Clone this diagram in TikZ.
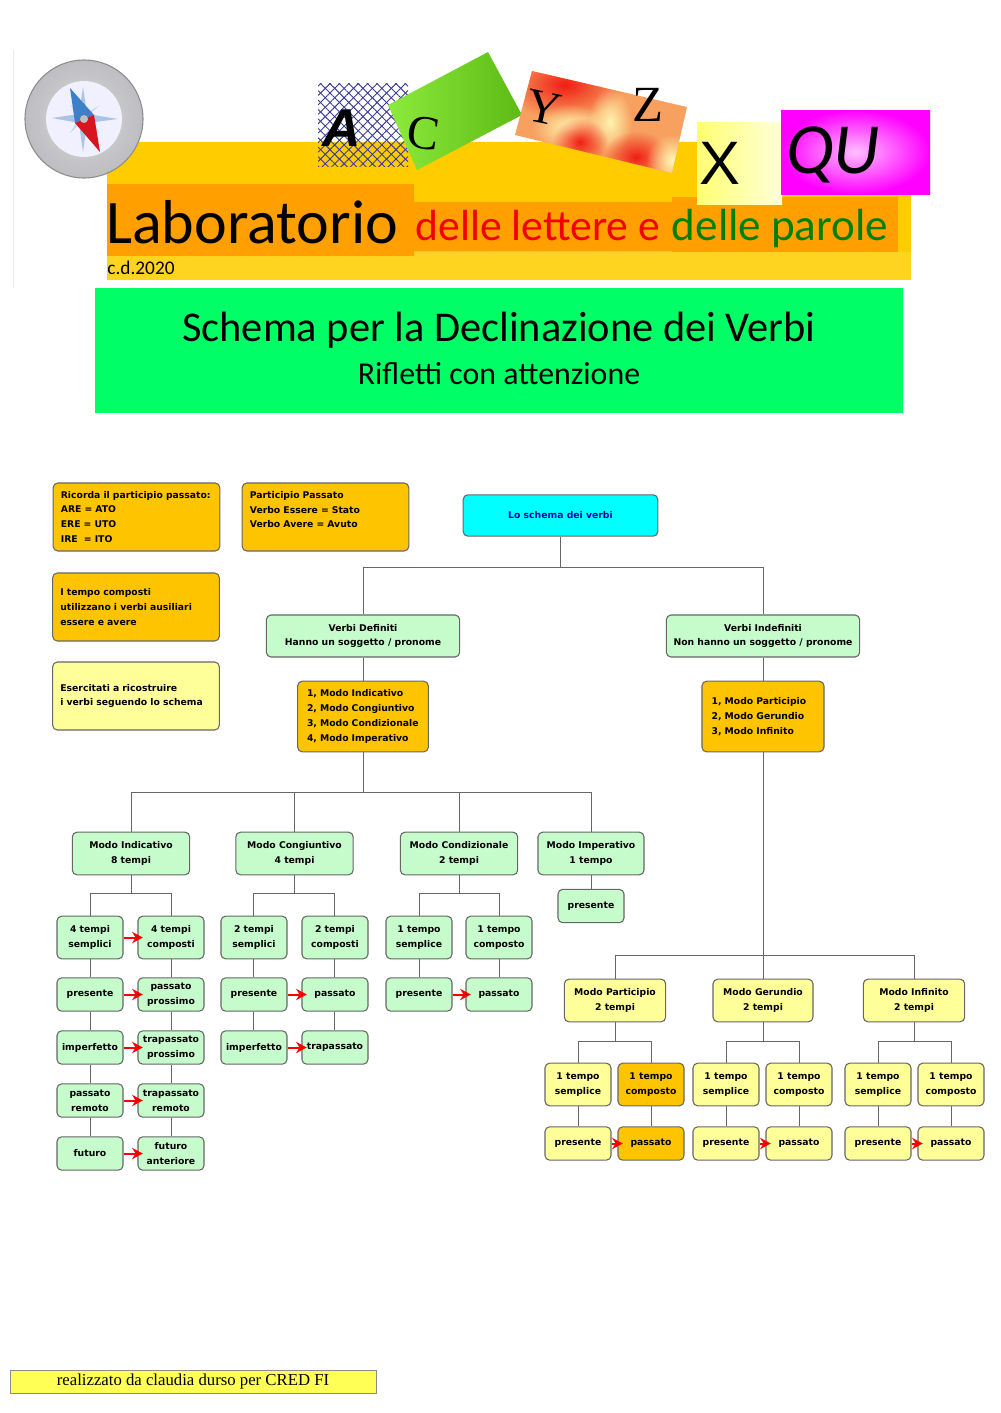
\documentclass[tikz,border=0pt]{standalone}
\usepackage{fontspec}
\usepackage{tikz}
\usetikzlibrary{positioning, arrows.meta, patterns.meta, fadings}
\newfontfamily\handfont{Carlito}
\newfontfamily\boxfont{DejaVu Sans}
\newfontfamily\timesfont{Liberation Serif}
\newfontfamily\arialfont{Liberation Sans}
\definecolor{bandyellow}{HTML}{FFCC00}
\definecolor{bandlow}{HTML}{FFD420}
\definecolor{bandorange}{HTML}{FF9F00}
\definecolor{bannergreen}{HTML}{00FF66}
\definecolor{boxgreen}{HTML}{C6FBCB}
\definecolor{boxorange}{HTML}{FFC400}
\definecolor{boxyellow}{HTML}{FFFF99}
\definecolor{boxcyan}{HTML}{00FFFF}
\definecolor{linegrey}{HTML}{666666}
\definecolor{rimgrey}{HTML}{BDBDC2}
\definecolor{starblue}{HTML}{A8C4E8}
\definecolor{needleblue}{HTML}{3F7FC8}
\definecolor{needlered}{HTML}{D8141E}
\definecolor{tilebase}{HTML}{F8A060}
\definecolor{tilepale}{HTML}{FFF5B0}
\definecolor{tilered}{HTML}{F01E14}
\definecolor{tilelime}{HTML}{8CEB3C}
\definecolor{tilegrass}{HTML}{5CBA14}
\definecolor{signyellow}{HTML}{FFFF55}
\definecolor{hatchblue}{HTML}{3C3C96}
\tikzfading[name=blob, inner color=transparent!0, outer color=transparent!100]
\tikzset{
  box/.style={draw=linegrey, rounded corners=3.5pt, line width=.8pt, inner sep=0pt,
    align=center, font=\boxfont\bfseries\fontsize{6.95}{11.2}\selectfont},
  note/.style={box, minimum width=125pt, minimum height=51pt, align=left, text width=113.5pt},
  head/.style={box, minimum width=88pt, minimum height=32pt},
  cell/.style={box, minimum width=49.5pt, minimum height=32pt},
  row/.style={box, minimum width=49.5pt, minimum height=25pt},
  green/.style={fill=boxgreen},
  orange/.style={fill=boxorange},
  yellow/.style={fill=boxyellow},
  elbow/.style={to path={-- ++(0,#1) -| (\tikztotarget)}},
  verso/.style={draw=red, line width=1.5pt, -{Stealth[length=8pt,width=8.5pt]}, shorten >=-4pt},
  lettera/.style={inner sep=0pt, text=black},
}
\begin{document}
\begin{tikzpicture}[x=.75pt,y=-.75pt,node distance=40pt,on grid]
\useasboundingbox (0,0) rectangle (1000,1413);

% header
\draw[black!8] (13,50) -- (13,288);
\fill[bandyellow] (107,142) rectangle (911,280);
\fill[bandlow] (107,252) rectangle (911,280);
\fill[bandorange] (107,184) rectangle (414,256);
\fill[bandorange] (414,202) rectangle (672,251);
\fill[bandorange] (672,197) rectangle (898,252);

% compass
\shade[inner color=rimgrey!60, outer color=rimgrey, draw=black!45, line width=.8pt] (84,119) circle (59);
\fill[black!22] (84,119) circle (41);
\fill[blue!6!white] (84,119) circle (38);
\fill[starblue] (83,87) -- (87,114) -- (118,119) -- (87,123) -- (83,152) -- (79,123) -- (52,118) -- (79,114) -- cycle;
\fill[starblue!70!white] (100,105) -- (86,117) -- (100,133) -- (82,121) -- (70,133) -- (80,117) -- (70,105) -- (84,115) -- cycle;
\fill[needleblue] (70,88) -- (94,115) -- (75,123) -- cycle;
\fill[needlered] (75,123) -- (94,115) -- (100,152) -- cycle;
\fill[black!25] (84,119) circle (4);

% letter tiles
\fill[pattern={Lines[angle=45,distance=5pt,line width=.7pt]},pattern color=hatchblue] (318,84) rectangle (408,166);
\fill[pattern={Lines[angle=-45,distance=5pt,line width=.7pt]},pattern color=hatchblue] (318,84) rectangle (408,166);
\shade[left color=tilelime, right color=tilegrass] (388,105) -- (488,52) -- (522,115) -- (417,170) -- cycle;
\begin{scope}
  \clip (532,71) -- (687,107) -- (672,173) -- (515,135) -- cycle;
  \fill[tilebase] (510,65) rectangle (690,175);
  \fill[tilered, path fading=blob] (565,85) ellipse (60 and 34);
  \fill[tilepale, path fading=blob] (570,128) ellipse (38 and 24);
  \fill[tilepale, path fading=blob] (610,122) ellipse (22 and 34);
  \fill[tilered, path fading=blob] (580,142) ellipse (28 and 24);
  \fill[tilered, path fading=blob] (636,157) ellipse (34 and 26);
  \fill[tilepale, path fading=blob] (672,160) ellipse (26 and 26);
\end{scope}
\shade[left color=yellow!55!white, right color=yellow!15!white] (697,122) rectangle (782,204);
\shade[inner color=magenta!25!white, outer color=magenta] (781,110) rectangle (930,194);

\node[lettera, font=\arialfont\bfseries\itshape\fontsize{40}{40}\selectfont] (let_a) at (342,128) {A};
\node[lettera, font=\timesfont\fontsize{36}{36}\selectfont, rotate=-8] (let_c) at (424,133) {C};
\node[lettera, font=\timesfont\fontsize{36}{36}\selectfont, rotate=-12] (let_y) at (544,108) {Y};
\node[lettera, font=\timesfont\fontsize{38}{38}\selectfont] (let_z) at (648,105) {Z};
\node[lettera, font=\arialfont\fontsize{46}{46}\selectfont] (let_x) at (720,163) {X};
\node[lettera, font=\handfont\itshape\fontsize{54}{54}\selectfont] (let_qu) at (833,155) {QU};

\node[lettera, font=\handfont\fontsize{46.5}{46.5}\selectfont] (lab) at (252,222) {Laboratorio};
\node[lettera, text=red!95!black, font=\handfont\fontsize{32.7}{32.7}\selectfont] (lab_l) at (538,226) {delle lettere e};
\node[lettera, text=green!50!black, font=\handfont\fontsize{33.8}{33.8}\selectfont] (lab_p) at (780,228) {delle parole};
\node[lettera, font=\handfont\fontsize{14.5}{14.5}\selectfont] (anno) at (141,268) {c.d.2020};

% banner
\fill[bannergreen] (95,288) rectangle (903,413);
\node[lettera, font=\handfont\fontsize{31.8}{31.8}\selectfont] (titolo) at (499,330) {Schema per la Declinazione dei Verbi};
\node[lettera, font=\handfont\fontsize{23.9}{23.9}\selectfont] (sottotitolo) at (499,374) {Rifletti con attenzione};

% notes
\node[note, orange] (n_part) at (136.5,517) {Ricorda il participio passato:\\ARE = ATO\\ERE = UTO\\IRE \ = ITO};
\node[note, orange] (n_aus) at (325.5,517) {Participio Passato\\Verbo Essere = Stato\\Verbo Avere = Avuto\\~};
\node[note, orange] (n_comp) at (136,607) {I tempo composti\\utilizzano i verbi ausiliari\\essere e avere};
\node[note, yellow] (n_eser) at (136,696) {Esercitati a ricostruire\\i verbi seguendo lo schema};

% top of the scheme
\node[box, fill=boxcyan, text=blue!70!black, minimum width=146pt, minimum height=31pt] (schema) at (560.5,515.5) {Lo schema dei verbi};
\node[box, green, minimum width=145pt, minimum height=31.5pt] (v_def) at (363,636) {Verbi Definiti\\Hanno un soggetto / pronome};
\node[box, green, minimum width=145pt, minimum height=31.5pt] (v_ind) at (763,636) {Verbi Indefiniti\\Non hanno un soggetto / pronome};
\node[box, orange, minimum width=98pt, minimum height=53pt, align=left, text width=84pt] (l_def) [below=60.4pt of v_def] {1, Modo Indicativo\\2, Modo Congiuntivo\\3, Modo Condizionale\\4, Modo Imperativo};
\node[box, orange, minimum width=91.5pt, minimum height=53pt, align=left, text width=77pt] (l_ind) [below=60.4pt of v_ind] {1, Modo Participio\\2, Modo Gerundio\\3, Modo Infinito};

% definite moods
\node[head, green] (m_ind) at (131,853.5) {Modo Indicativo\\8 tempi};
\node[head, green] (m_con) at (294.5,853.5) {Modo Congiuntivo\\4 tempi};
\node[head, green] (m_cnd) at (459,853.5) {Modo Condizionale\\2 tempi};
\node[head, green, minimum width=79.5pt] (m_imp) at (591,853.5) {Modo Imperativo\\1 tempo};
\node[row, green] (imp_p) [below=39.4pt of m_imp] {presente};

\node[cell, green] (ind_s) [below left=63pt and 30.75pt of m_ind] {4 tempi\\semplici};
\node[cell, green] (ind_c) [right=60.75pt of ind_s] {4 tempi\\composti};
\node[row, green] (ind_s1) [below=42.75pt of ind_s] {presente};
\node[row, green] (ind_c1) [below=42.75pt of ind_c] {passato\\prossimo};
\node[row, green] (ind_s2) [below=39.75pt of ind_s1] {imperfetto};
\node[row, green] (ind_c2) [below=39.75pt of ind_c1] {trapassato\\prossimo};
\node[row, green] (ind_s3) [below=39.75pt of ind_s2] {passato\\remoto};
\node[row, green] (ind_c3) [below=39.75pt of ind_c2] {trapassato\\remoto};
\node[row, green] (ind_s4) [below=39.75pt of ind_s3] {futuro};
\node[row, green] (ind_c4) [below=39.75pt of ind_c3] {futuro\\anteriore};

\node[cell, green] (con_s) [below left=63pt and 30.4pt of m_con] {2 tempi\\semplici};
\node[cell, green] (con_c) [right=60.75pt of con_s] {2 tempi\\composti};
\node[row, green] (con_s1) [below=42.75pt of con_s] {presente};
\node[row, green] (con_c1) [below=42.75pt of con_c] {passato};
\node[row, green] (con_s2) [below=39.75pt of con_s1] {imperfetto};
\node[row, green] (con_c2) [below=39.75pt of con_c1] {trapassato};

\node[cell, green] (cnd_s) [below left=63pt and 30pt of m_cnd] {1 tempo\\semplice};
\node[cell, green] (cnd_c) [right=60pt of cnd_s] {1 tempo\\composto};
\node[row, green] (cnd_s1) [below=42.75pt of cnd_s] {presente};
\node[row, green] (cnd_c1) [below=42.75pt of cnd_c] {passato};

% indefinite moods
\node[head, yellow, minimum width=76pt] (m_par) at (615,1000.5) {Modo Participio\\2 tempi};
\node[head, yellow, minimum width=75pt] (m_ger) at (763,1000.5) {Modo Gerundio\\2 tempi};
\node[head, yellow, minimum width=76pt] (m_inf) at (914,1000.5) {Modo Infinito\\2 tempi};

\node[cell, yellow] (par_s) [below left=63pt and 27.75pt of m_par] {1 tempo\\semplice};
\node[cell, orange] (par_c) [right=54.75pt of par_s] {1 tempo\\composto};
\node[row, yellow] (par_s1) [below=44.25pt of par_s] {presente};
\node[row, orange] (par_c1) [below=44.25pt of par_c] {passato};

\node[cell, yellow] (ger_s) [below left=63pt and 27.75pt of m_ger] {1 tempo\\semplice};
\node[cell, yellow] (ger_c) [right=54.75pt of ger_s] {1 tempo\\composto};
\node[row, yellow] (ger_s1) [below=44.25pt of ger_s] {presente};
\node[row, yellow] (ger_c1) [below=44.25pt of ger_c] {passato};

\node[cell, yellow] (inf_s) [below left=63pt and 27pt of m_inf] {1 tempo\\semplice};
\node[cell, yellow] (inf_c) [right=54.75pt of inf_s] {1 tempo\\composto};
\node[row, yellow] (inf_s1) [below=44.25pt of inf_s] {presente};
\node[row, yellow] (inf_c1) [below=44.25pt of inf_c] {passato};

% grey connectors
\path[draw=linegrey, line width=.75pt]
  (schema.south) edge [elbow=31] (v_def.north)
                 edge [elbow=31] (v_ind.north)
  (v_def) edge (l_def)
  (v_ind) edge (l_ind)
  (l_def.south) edge [elbow=40] (m_ind.north)
                edge [elbow=40] (m_con.north)
                edge [elbow=40] (m_cnd.north)
                edge [elbow=40] (m_imp.north)
  (l_ind.south) edge [elbow=203] (m_par.north)
                edge [elbow=203] (m_ger.north)
                edge [elbow=203] (m_inf.north)
  (m_imp) edge (imp_p)
  (m_ind.south) edge [elbow=18] (ind_s.north)
                edge [elbow=18] (ind_c.north)
  (ind_s) edge (ind_s1) (ind_s1) edge (ind_s2) (ind_s2) edge (ind_s3) (ind_s3) edge (ind_s4)
  (ind_c) edge (ind_c1) (ind_c1) edge (ind_c2) (ind_c2) edge (ind_c3) (ind_c3) edge (ind_c4)
  (m_con.south) edge [elbow=18] (con_s.north)
                edge [elbow=18] (con_c.north)
  (con_s) edge (con_s1) (con_s1) edge (con_s2)
  (con_c) edge (con_c1) (con_c1) edge (con_c2)
  (m_cnd.south) edge [elbow=18] (cnd_s.north)
                edge [elbow=18] (cnd_c.north)
  (cnd_s) edge (cnd_s1)
  (cnd_c) edge (cnd_c1)
  (m_par.south) edge [elbow=19] (par_s.north)
                edge [elbow=19] (par_c.north)
  (par_s) edge (par_s1)
  (par_c) edge (par_c1)
  (m_ger.south) edge [elbow=19] (ger_s.north)
                edge [elbow=19] (ger_c.north)
  (ger_s) edge (ger_s1)
  (ger_c) edge (ger_c1)
  (m_inf.south) edge [elbow=19] (inf_s.north)
                edge [elbow=19] (inf_c.north)
  (inf_s) edge (inf_s1)
  (inf_c) edge (inf_c1);

% red arrows
\path[verso]
  (ind_s) edge (ind_c)
  (ind_s1) edge (ind_c1)
  (ind_s2) edge (ind_c2)
  (ind_s3) edge (ind_c3)
  (ind_s4) edge (ind_c4)
  (con_s1) edge (con_c1)
  (con_s2) edge (con_c2)
  (cnd_s1) edge (cnd_c1)
  (par_s1) edge (par_c1)
  (ger_s1) edge (ger_c1)
  (inf_s1) edge (inf_c1);

% footer
\node[draw=black!45, fill=signyellow, inner sep=0pt, minimum width=274.5pt, minimum height=17pt,
  font=\timesfont\fontsize{12.55}{12.55}\selectfont] (firma) at (193,1381.5) {\smash{\raisebox{-3.2pt}{realizzato da claudia durso per CRED FI}}};
\end{tikzpicture}
\end{document}
